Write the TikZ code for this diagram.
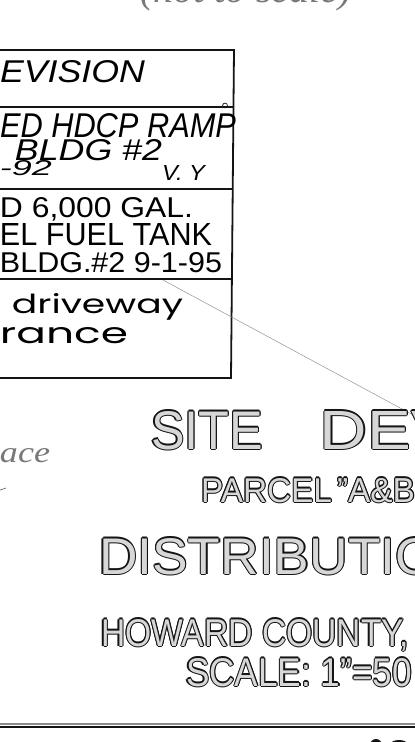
\documentclass[tikz,border=0pt]{standalone}
\usepackage{fontspec}
\usepackage{graphicx}
\setmainfont{Liberation Sans}
\newfontfamily\roundfont{Poppins}
\newfontfamily\handserif{Liberation Serif}
\definecolor{ink}{RGB}{20,20,20}
\definecolor{holfill}{RGB}{215,215,215}
\definecolor{pencil}{RGB}{120,120,120}
\newsavebox\holbox
\newsavebox\holwh
\newcommand\holcopy[2]{\rlap{\raisebox{#2}{\kern#1\usebox\holbox}}}
\newcommand\hol[1]{\sbox\holbox{\color{ink}#1}\sbox\holwh{\color{holfill}#1}%
  \leavevmode\holcopy{1.1pt}{0pt}\holcopy{-1.1pt}{0pt}\holcopy{0pt}{1.1pt}\holcopy{0pt}{-1.1pt}%
  \holcopy{.8pt}{.8pt}\holcopy{-.8pt}{.8pt}\holcopy{.8pt}{-.8pt}\holcopy{-.8pt}{-.8pt}%
  \usebox\holwh}
\tikzset{
  txt/.style={inner sep=0pt, outer sep=0pt, anchor=base west},
  boxline/.style={line width=1.8pt, draw=ink},
  leader/.style={line width=0.5pt, draw=pencil!80}
}
\begin{document}
\begin{tikzpicture}[x=1pt,y=-1pt]
\useasboundingbox (0,0) rectangle (415,742);
\clip (0,0) rectangle (415,742);

% partial note at the top
\node[txt, text=pencil] (ns) at (140,2) {\resizebox{212pt}{!}{\handserif\itshape (not to scale)}};

% revision table
\draw[boxline] (0,50) -- (234,50) -- (231,378) -- (0,378);
\draw[boxline] (0,107) -- (233,107);
\draw[boxline] (0,189) -- (232,189);
\draw[boxline] (0,279) -- (232,279);
\draw[line width=0.7pt, draw=ink] (225,105.5) circle (2.4);

\node[txt] (rev) at (0,82) {\resizebox{145pt}{22pt}{\itshape EVISION}};
\node[txt] (r2a) at (0,137) {\resizebox{236pt}{24pt}{\itshape ED HDCP RAMP}};
\node[txt] (r2b) at (15,160) {\resizebox{147pt}{21pt}{\itshape BLDG \#2}};
\node[txt] (r2c) at (0,175) {\resizebox{52pt}{15pt}{\itshape -92}};
\node[txt] (r2d) at (162,180) {\resizebox{43pt}{15pt}{\itshape V. Y}};
\node[txt] (r3a) at (0,217) {\resizebox{193pt}{20pt}{D 6,000 GAL.}};
\node[txt] (r3b) at (0,245) {\resizebox{212pt}{22pt}{EL FUEL TANK}};
\node[txt] (r3c) at (0,272) {\resizebox{222pt}{20pt}{BLDG.\#2 9-1-95}};
\node[txt] (r4a) at (12,313) {\resizebox{171pt}{20pt}{\roundfont driveway}};
\node[txt] (r4b) at (0,343) {\resizebox{128pt}{16pt}{\roundfont rance}};

% thin leader line
\coordinate (lstart) at (163,280);
\coordinate (lend) at (415,416);
\draw[leader] (lstart) -- (lend);

% pencil note
\node[txt, text=pencil] (ace) at (0,462) {\resizebox{50pt}{14pt}{\handserif\itshape ace}};
\draw[pencil, line width=0.8pt] (0,490) -- (6,488);

% title lettering
\node[txt] (t1) at (151,449) {\hol{\resizebox{112pt}{38pt}{SITE}\hspace{57pt}\resizebox{135pt}{38pt}{DEV}}};
\node[txt] (t2) at (201,502) {\hol{\resizebox{131pt}{24pt}{PARCEL}\hspace{5pt}\resizebox{78pt}{24pt}{\char34 A\&B}}};
\node[txt] (t3) at (99,574) {\hol{\resizebox{338pt}{36pt}{DISTRIBUTIO}}};
\node[txt] (t4) at (101,646) {\hol{\resizebox{308pt}{27pt}{HOWARD COUNTY,}}};
\node[txt] (t5) at (186,686) {\hol{\resizebox{226pt}{28pt}{SCALE: 1\char34=50}}};

% bottom rule
\draw[line width=1.5pt, draw=black!45] (0,724) -- (415,724);
\draw[line width=2pt, draw=ink] (0,726.5) -- (415,726.5);

% cut-off marks at the bottom edge
\fill[ink] (376,745) ellipse (6 and 6);
\fill[ink] (399,745) ellipse (9 and 5);
\end{tikzpicture}
\end{document}
